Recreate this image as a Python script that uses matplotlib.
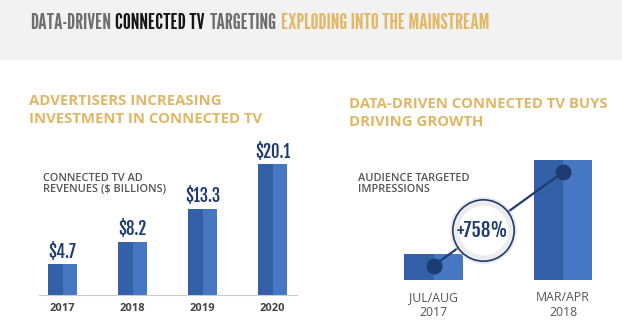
import matplotlib

matplotlib.use("Agg")
import matplotlib.pyplot as plt
from matplotlib.patches import Rectangle

# left panel: connected TV ad revenues ($ billions)
YEARS = ["2017", "2018", "2019", "2020"]
REVENUES = [4.7, 8.2, 13.3, 20.1]

# right panel: audience targeted impressions (relative bar heights)
PERIODS = ["JUL/AUG\n2017", "MAR/APR\n2018"]
IMPRESSIONS = [1.0, 4.6]
GROWTH_LABEL = "+758%"

TITLE_PARTS = [
    ("DATA-DRIVEN", "#6e6e6e"),
    ("CONNECTED TV", "#151515"),
    ("TARGETING", "#6e6e6e"),
    ("EXPLODING INTO THE MAINSTREAM", "#e2b865"),
]

W, H = 622, 326
DARK = "#3460a8"
LIGHT = "#4577c3"
NAVY = "#1f3b6f"
GOLD = "#e0b766"
GOTHIC = ["League Gothic", "Pathway Gothic One", "DejaVu Sans"]
NARROW = ["Fjalla One", "Oswald", "DejaVu Sans"]
SANS = ["Open Sans", "DejaVu Sans"]


def px_axes(fig, x0, y0, x1, y1):
    # pixel box (top-left origin) -> figure axes
    return fig.add_axes([x0 / W, 1 - y1 / H, (x1 - x0) / W, (y1 - y0) / H])


def two_tone_bars(ax, xs, values, width):
    ax.bar([x - width / 2 for x in xs], values, width=width / 2, align="edge", color=DARK, linewidth=0)
    ax.bar(xs, values, width=width / 2, align="edge", color=LIGHT, linewidth=0)


def draw_title(hax, size):
    pieces = []
    prev = None
    for text, color in TITLE_PARTS:
        kw = dict(color=color, fontsize=size, family=GOTHIC, ha="left", va="center")
        if prev is None:
            prev = hax.text(30 / W, 0.62, text, transform=hax.transAxes, **kw)
        else:
            prev = hax.annotate(text, xy=(1, 0.5), xycoords=prev, xytext=(0.2 * size, 0),
                                textcoords="offset points", **kw)
        pieces.append(prev)
    return pieces


fig = plt.figure(figsize=(W / 100, H / 100), dpi=100)
fig.patch.set_facecolor("white")

# header band + multicolour title, sized so it spans ~30..488 px like the original
hax = px_axes(fig, 0, 0, W, 60)
hax.axis("off")
hax.add_patch(Rectangle((0, 0), 1, 1, transform=hax.transAxes, color="#f2f2f2", zorder=0))
pieces = draw_title(hax, 20)
fig.canvas.draw()
right = pieces[-1].get_window_extent().x1
scale = (488 - 30) / (right - 30)
for p in pieces:
    p.remove()
draw_title(hax, 20 * scale)

# panel subtitles
fig.text(29 / W, 1 - 110 / H, "ADVERTISERS INCREASING\nINVESTMENT IN CONNECTED TV", color=GOLD,
         fontsize=10.7, fontweight="bold", family=SANS, va="center", linespacing=1.3)
fig.text(349 / W, 1 - 113 / H, "DATA-DRIVEN CONNECTED TV BUYS\nDRIVING GROWTH", color=GOLD,
         fontsize=10.7, fontweight="bold", family=SANS, va="center", linespacing=1.3)

# left: revenue bars
ax = px_axes(fig, 39, 150, 297, 295)
xs = list(range(len(YEARS)))
two_tone_bars(ax, xs, REVENUES, 0.414)
for x, v in zip(xs, REVENUES):
    ax.annotate(f"${v}", xy=(x, v), xytext=(0, 2), textcoords="offset points", ha="center", va="bottom",
                color=NAVY, fontsize=12, family=NARROW)
ax.set_xlim(-0.336, 3.35)
ax.set_ylim(0, 145 / 6.5)
ax.set_xticks(xs)
ax.set_xticklabels(YEARS, fontsize=8, fontweight="bold", color="#444444", family=SANS)
ax.tick_params(axis="x", length=0, pad=6)
ax.set_yticks([])
for side in ["top", "right", "left"]:
    ax.spines[side].set_visible(False)
ax.spines["bottom"].set_color("#cccccc")
ax.spines["bottom"].set_linewidth(0.8)
ax.patch.set_alpha(0)
fig.text(43 / W, 1 - 184 / H, "CONNECTED TV AD\nREVENUES ($ BILLIONS)", color="#555555", fontsize=7.9,
         fontweight="semibold", family=SANS, va="center", linespacing=1.1)

# right: impressions bars with growth connector
rax = px_axes(fig, 380, 150, 610, 280)
rxs = list(range(len(PERIODS)))
two_tone_bars(rax, rxs, IMPRESSIONS, 0.455)
rax.set_xlim(-(433.5 - 380) / 129.5, (610 - 433.5) / 129.5)
rax.set_ylim(0, 130 / 26)
dot_y = [v - 0.45 for v in IMPRESSIONS]
rax.plot(rxs, dot_y, color=NAVY, lw=1.6, zorder=3)
rax.scatter(rxs, dot_y, s=110, color="#1d3c74", zorder=4)
t = 0.38
cx = rxs[0] + t * (rxs[1] - rxs[0])
cy = dot_y[0] + t * (dot_y[1] - dot_y[0])
rax.scatter([cx], [cy], s=2300, color="#d0d0d0", alpha=0.5, zorder=5, linewidths=0)
rax.scatter([cx], [cy], s=1950, facecolor="#f2f2f2", edgecolor=NAVY, linewidths=1.2, zorder=6)
rax.scatter([cx], [cy], s=1500, facecolor="#ffffff", edgecolor="#ececec", linewidths=3, zorder=7)
rax.text(cx, cy, GROWTH_LABEL, ha="center", va="center", color=NAVY, fontsize=13.5, family=NARROW, zorder=8)
rax.set_xticks(rxs)
rax.set_xticklabels(PERIODS, fontsize=8.8, color="#555555", family=SANS, linespacing=1.15)
rax.tick_params(axis="x", length=0, pad=8)
rax.set_yticks([])
for side in rax.spines:
    rax.spines[side].set_visible(False)
rax.patch.set_alpha(0)
fig.text(358 / W, 1 - 184 / H, "AUDIENCE TARGETED\nIMPRESSIONS", color="#555555", fontsize=7.9,
         fontweight="semibold", family=SANS, va="center", linespacing=1.1)

fig.savefig("out.png", dpi=100)
